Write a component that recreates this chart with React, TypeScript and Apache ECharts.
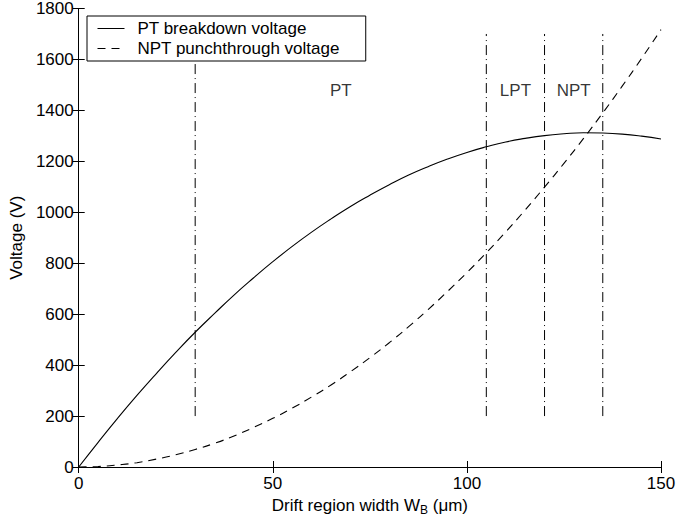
import React, { useEffect, useRef } from "react";
import * as echarts from "echarts";

// Drift region width W_B (µm)
const driftWidth = [0, 5, 10, 15, 20, 25, 30, 35, 40, 45, 50, 55, 60, 65, 70, 75, 80, 85, 90, 95, 100, 105, 110, 115, 120, 125, 130, 135, 140, 145, 150];
// PT breakdown voltage (V)
const ptBreakdown = [0, 97, 191, 281, 367, 450, 529, 603, 675, 742, 806, 866, 922, 974, 1023, 1067, 1108, 1146, 1179, 1209, 1235, 1257, 1276, 1290, 1301, 1308, 1312, 1311, 1307, 1299, 1288];
// NPT punchthrough voltage (V)
const nptPunch = [0, 2, 8, 17, 31, 48, 69, 93, 122, 155, 191, 231, 275, 322, 374, 429, 488, 551, 618, 689, 763, 841, 923, 1009, 1099, 1192, 1289, 1390, 1495, 1604, 1717];
// region boundaries (µm) and their vertical extent (V)
const boundaryX = [30, 105, 120, 135];
const boundaryRange = [200, 1700];
// region labels
const regionNames = ["PT", "LPT", "NPT"];
const regionX = [67.5, 112.5, 127.5];
const regionY = [1480, 1480, 1480];

const seriesNames = ["PT breakdown voltage", "NPT punchthrough voltage"];

const FONT = "'Liberation Sans', Arial, Helvetica, sans-serif";

export default function App() {
  const ref = useRef<HTMLDivElement>(null);
  useEffect(() => {
    if (!ref.current) return;
    const chart = echarts.init(ref.current, null, { renderer: "svg" });
    const axisLine = { show: true, lineStyle: { color: "#000", width: 1 } };
    const tick = { show: true, inside: true, length: 6, lineStyle: { color: "#000" } };
    const option: any = {
      animation: false,
      backgroundColor: "#fff",
      color: ["#000"],
      textStyle: { fontFamily: FONT },
      grid: { left: 77, right: 36, top: 7, bottom: 58, containLabel: false },
      legend: {
        data: seriesNames,
        orient: "vertical",
        left: 87,
        top: 16,
        itemWidth: 27,
        itemHeight: 14,
        itemGap: 3,
        padding: [4, 26, 4, 10],
        borderColor: "#000",
        borderWidth: 1,
        borderRadius: 0,
        backgroundColor: "#fff",
        itemStyle: { opacity: 0 },
        lineStyle: { width: 1, color: "#000" },
        textStyle: { fontSize: 17, color: "#000", fontFamily: FONT, padding: [0, 0, 0, 8] },
        z: 10,
      },
      xAxis: [
        {
          type: "value",
          min: 0,
          max: 150,
          interval: 50,
          axisLine,
          axisTick: tick,
          splitLine: { show: false },
          axisLabel: { fontSize: 17, color: "#000", margin: 8, fontFamily: FONT, formatter: (v: number) => String(v) },
          name: "Drift region width W{sub|B} (μm)",
          nameLocation: "middle",
          nameGap: 21,
          nameTextStyle: {
            fontSize: 17,
            color: "#000",
            fontFamily: FONT,
            rich: {
              sub: { fontSize: 12, fontFamily: FONT, color: "#000", verticalAlign: "bottom", padding: [10, 0, 0, 0] },
            },
          },
        },
        {
          type: "value",
          position: "top",
          min: 0,
          max: 150,
          interval: 50,
          axisLine,
          axisTick: tick,
          splitLine: { show: false },
          axisLabel: { show: false },
        },
      ],
      yAxis: [
        {
          type: "value",
          min: 0,
          max: 1800,
          interval: 200,
          axisLine,
          axisTick: tick,
          splitLine: { show: false },
          axisLabel: { fontSize: 17, color: "#000", margin: 5, fontFamily: FONT, formatter: (v: number) => String(v) },
          name: "Voltage (V)",
          nameLocation: "middle",
          nameGap: 36,
          nameTextStyle: { fontSize: 17, color: "#000", fontFamily: FONT },
        },
        {
          type: "value",
          position: "right",
          min: 0,
          max: 1800,
          interval: 200,
          axisLine,
          axisTick: tick,
          splitLine: { show: false },
          axisLabel: { show: false },
        },
      ],
      series: [
        {
          name: seriesNames[0],
          type: "line",
          data: driftWidth.map((w, i) => [w, ptBreakdown[i]]),
          symbol: "none",
          smooth: true,
          itemStyle: { color: "#000" },
          lineStyle: { color: "#000", width: 1.1, type: "solid" },
          z: 3,
        },
        {
          name: seriesNames[1],
          type: "line",
          data: driftWidth.map((w, i) => [w, nptPunch[i]]),
          symbol: "none",
          smooth: true,
          itemStyle: { color: "#000" },
          lineStyle: { color: "#000", width: 1.1, type: [8, 6] },
          z: 3,
        },
        ...boundaryX.map((x) => ({
          name: "boundary " + x,
          type: "line",
          data: boundaryRange.map((v) => [x, v]),
          symbol: "none",
          lineStyle: { color: "#000", width: 1, type: [10, 4, 1, 4] },
          z: 2,
        })),
        {
          name: "regions",
          type: "scatter",
          data: regionNames.map((n, i) => ({ value: [regionX[i], regionY[i]], name: n })),
          symbolSize: 1,
          itemStyle: { color: "rgba(0,0,0,0)" },
          label: {
            show: true,
            position: "inside",
            formatter: (p: any) => p.name,
            fontSize: 17,
            color: "#000",
            textBorderWidth: 0,
            fontFamily: FONT,
          },
          z: 4,
        },
      ],
    };
    chart.setOption(option);
    return () => chart.dispose();
  }, []);
  return (
    <div
      ref={ref}
      style={{ position: "fixed", left: 0, top: 0, width: 697, height: 525, background: "#fff" }}
    />
  );
}
